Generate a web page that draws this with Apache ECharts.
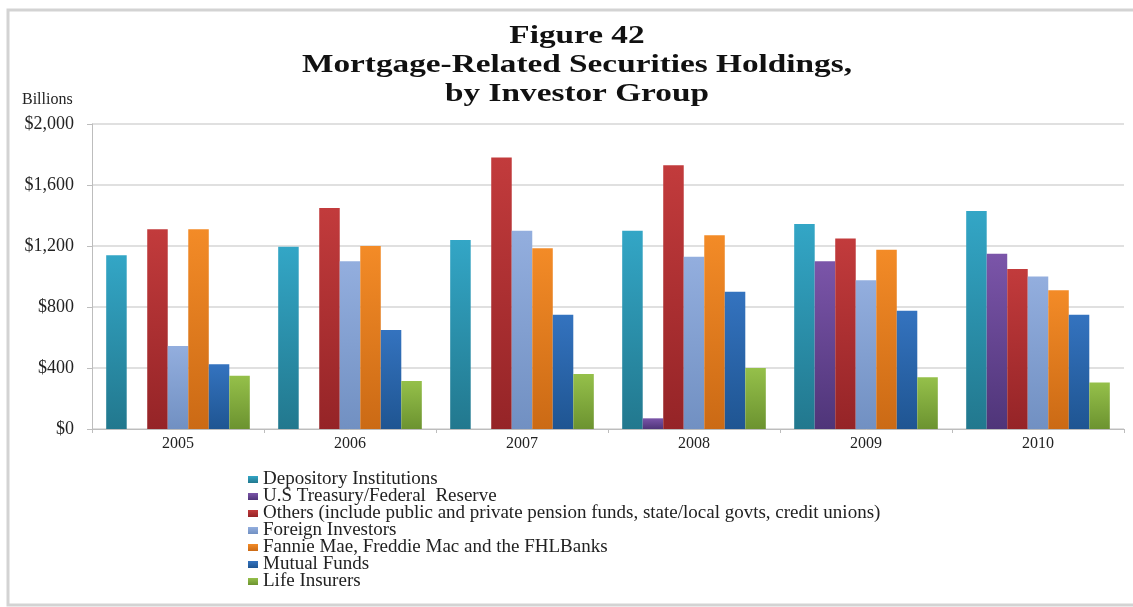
<!DOCTYPE html>
<html>
<head>
<meta charset="utf-8">
<title>Mortgage-Related Securities Holdings, by Investor Group</title>
<script src="https://cdn.jsdelivr.net/npm/echarts@6/dist/echarts.min.js"></script>
<style>
  html, body { margin: 0; padding: 0; background: #ffffff; }
  #chart { width: 1133px; height: 607px; }
</style>
</head>
<body>
<div id="chart"></div>
<script>
// Holdings of mortgage-related securities, $ billions, by year
const years = ['2005', '2006', '2007', '2008', '2009', '2010'];
const depositoryInstitutions = [1140, 1195, 1240, 1300, 1345, 1430];
const treasuryFederalReserve = [null, null, null, 70, 1100, 1150];
const othersGroup = [1310, 1450, 1780, 1730, 1250, 1050];
const foreignInvestors = [545, 1100, 1300, 1130, 975, 1000];
const gseHoldings = [1310, 1200, 1185, 1270, 1175, 910];
const mutualFunds = [425, 650, 750, 900, 775, 750];
const lifeInsurers = [350, 315, 360, 400, 340, 305];

const seriesNames = [
  'Depository Institutions',
  'U.S Treasury/Federal  Reserve',
  'Others (include public and private pension funds, state/local govts, credit unions)',
  'Foreign Investors',
  'Fannie Mae, Freddie Mac and the FHLBanks',
  'Mutual Funds',
  'Life Insurers'
];
const yTicks = [0, 400, 800, 1200, 1600, 2000];

const seriesData = [
  depositoryInstitutions, treasuryFederalReserve, othersGroup,
  foreignInvestors, gseHoldings, mutualFunds, lifeInsurers
];

// top / bottom shades of each bar colour
const palette = [
  ['#33a6c6', '#22788e'],
  ['#7b55a9', '#4f3579'],
  ['#c23b3c', '#952427'],
  ['#93aede', '#7190c2'],
  ['#f38b27', '#cb6a15'],
  ['#3473bf', '#1f5592'],
  ['#95c04a', '#6c9330']
];

const serif = '"Liberation Serif", "Times New Roman", serif';

const chart = echarts.init(document.getElementById('chart'), null, { renderer: 'canvas' });

chart.setOption({
  backgroundColor: '#ffffff',
  animation: false,
  graphic: [
    {
      type: 'rect',
      shape: { x: 8, y: 10, width: 1140, height: 595 },
      style: { fill: 'none', stroke: '#d3d3d3', lineWidth: 3 },
      silent: true
    },
    {
      // wide, heavy serif heading
      type: 'text',
      x: 577,
      y: 22,
      scaleX: 1.28,
      style: {
        text: 'Figure 42\nMortgage-Related Securities Holdings,\nby Investor Group',
        font: 'bold 26px ' + serif,
        fill: '#111111',
        align: 'center',
        lineHeight: 29
      }
    },
    {
      type: 'text',
      x: 22,
      y: 92,
      style: {
        text: 'Billions',
        font: '16px ' + serif,
        fill: '#222222'
      }
    }
  ],
  grid: { left: 92, right: 9, top: 124, bottom: 178, containLabel: false },
  legend: {
    orient: 'vertical',
    left: 248,
    top: 470,
    padding: 0,
    itemWidth: 10,
    itemHeight: 7,
    itemGap: -2,
    icon: 'rect',
    data: seriesNames,
    textStyle: { fontFamily: serif, fontSize: 19, color: '#222222' }
  },
  xAxis: {
    type: 'category',
    data: years,
    axisLine: { lineStyle: { color: '#bdbdbd', width: 1 } },
    axisTick: { show: true, length: 4, lineStyle: { color: '#bdbdbd' } },
    axisLabel: { fontFamily: serif, fontSize: 16, color: '#222222', margin: 7 }
  },
  yAxis: {
    type: 'value',
    min: 0,
    max: 2000,
    interval: 400,
    axisLine: { show: true, lineStyle: { color: '#bdbdbd', width: 1 } },
    axisTick: { show: true, length: 5, lineStyle: { color: '#bdbdbd' } },
    splitLine: { lineStyle: { color: '#d6d6d6', width: 1.5 } },
    axisLabel: {
      fontFamily: serif,
      fontSize: 18,
      color: '#222222',
      margin: 18,
      customValues: yTicks,
      formatter: v => '$' + v.toLocaleString('en-US')
    }
  },
  series: seriesNames.map((name, i) => ({
    name: name,
    type: 'bar',
    data: seriesData[i],
    barGap: '0%',
    barCategoryGap: '16.5%',
    itemStyle: {
      color: new echarts.graphic.LinearGradient(0, 0, 0, 1, [
        { offset: 0, color: palette[i][0] },
        { offset: 1, color: palette[i][1] }
      ])
    }
  }))
});
</script>
</body>
</html>
